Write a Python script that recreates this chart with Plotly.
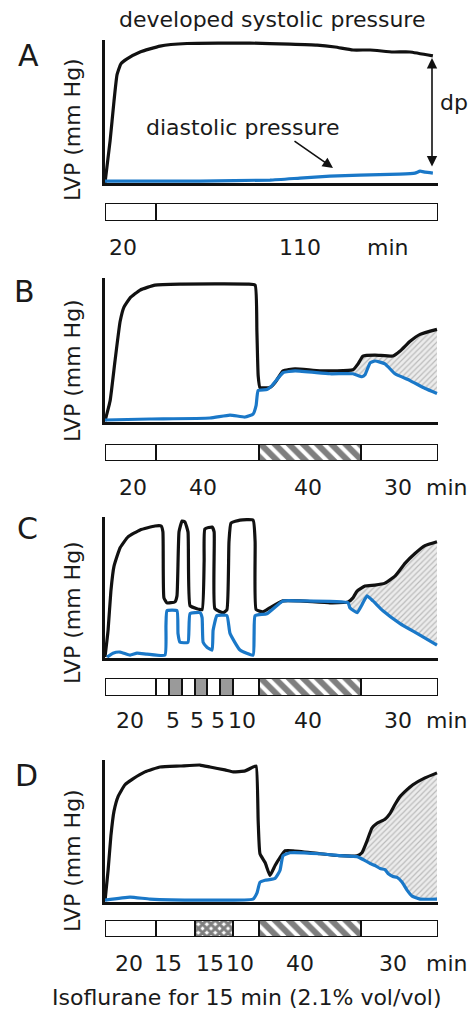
import plotly.graph_objects as go

W, H = 472, 1012
FONT = "DejaVu Sans"
BLACK = "#111111"
BLUE = "#1a78c8"

# ---------------- data: time (min), LVP (% of axis height) ----------------
a_sys_t = [0, 2.0, 3.5, 4.7, 6.2, 8.6, 13.7, 21.5, 32, 56.6, 72.2, 82.8, 89.8, 96.8, 103.5, 112.4, 119, 128]
a_sys = [0, 30.1, 58, 76.9, 84.6, 88.1, 93, 97.2, 99, 99.3, 98.6, 97.9, 96.5, 94.4, 94.4, 93, 93, 90.2]
a_dia_t = [0, 37, 64.4, 76.1, 87.8, 99.5, 115, 121, 123, 125, 128]
a_dia = [1.4, 1.4, 2.1, 3.5, 4.9, 5.6, 6.3, 7.0, 8.4, 7.7, 7.0]

b_sys_t = [0, 2.0, 3.9, 5.9, 7.4, 9.8, 13.7, 19.5, 29.3, 55.8, 58.6, 59.3, 59.8, 60.5, 64.4, 66.4, 69.5,
           74.2, 83.9, 96.8, 98.8, 100.7, 105.4, 112.4, 115.2, 119.1, 123, 129.6]
b_sys = [0.7, 15, 43, 70.8, 81, 87.5, 93, 96.5, 97.2, 97.2, 96.5, 63.9, 32.6, 24.3, 24.3, 27.8, 36.1,
         37.5, 36.1, 36.8, 41, 46.5, 47.2, 46.5, 50, 56.9, 61.8, 65.3]
b_dia_t = [0, 17.6, 41, 48.8, 54.7, 57.8, 59, 59.8, 63.2, 65.2, 69.5, 74.2, 87.8, 96.8, 100.3, 101.5,
           103.5, 105.4, 109.3, 113.2, 119.1, 125, 129.6]
b_dia = [1.4, 2.1, 2.8, 4.9, 3.5, 5.6, 11.8, 22.2, 22.9, 25.7, 34.7, 36.1, 34, 34, 31.9, 33.3,
         41.7, 43, 41, 34, 29.2, 23.6, 20.1]
b_fill_from = 96.8

c_sys_t = [0, 1.2, 2.3, 3.5, 5.9, 9.0, 13.7, 19.5, 21.9, 22.6, 23.0, 24.2, 27.3, 28.1, 28.9, 30.1, 31.2,
           32.4, 33.2, 35.9, 37.9, 38.7, 39.0, 41.8, 42.6, 42.9, 46.1, 47.6, 48.4, 49.2, 52.7, 57.8,
           58.6, 59.0, 61.7, 64.4, 69.5, 76.1, 87.8, 94.9, 96.8, 98.4, 101.5, 105.4, 109.3, 113.2,
           117.1, 121, 124.9, 129.6]
c_sys = [0.7, 19.9, 48.2, 66, 79.4, 87.2, 92.2, 95, 95, 90.8, 43.3, 39.7, 40.4, 44.7, 90.8, 98.6, 97.9,
         90.8, 37.6, 35.5, 34.8, 69.5, 92.9, 94.3, 90.8, 35.5, 32.6, 34.8, 83.7, 97.2, 99.3, 99.3,
         83.7, 34.8, 33.3, 36.2, 41.1, 41.1, 39.7, 40.4, 43.3, 48.2, 51.8, 52.5, 53.9, 58.9,
         68.1, 75.2, 80.9, 83.7]
c_dia_t = [0.8, 3.1, 5.9, 9.8, 12.5, 16.4, 23.4, 23.8, 24.2, 28.1, 28.5, 29.3, 32.4, 33.2, 37.1, 37.9,
           38.3, 39.8, 41.8, 42.2, 43.7, 47.6, 48.8, 52.7, 57.8, 58.2, 58.6, 63.2, 69.5, 76.1, 94.9,
           95.6, 98.4, 100.7, 102.3, 104.6, 108.5, 115.2, 121.8, 129.6]
c_dia = [0.7, 3.5, 4.3, 2.1, 3.5, 2.8, 2.1, 23.4, 34, 34, 17.7, 11.3, 11.3, 31.9, 32.6, 29.1,
         11.3, 7.8, 5.7, 19.9, 30.5, 30.5, 17.7, 5.7, 2.1, 16.3, 30.5, 31.9, 41.1, 41.1, 39.7,
         36.2, 32.6, 39.7, 44.7, 41.1, 34, 24.8, 17.7, 9.2]
c_fill_from = 94.9

d_sys_t = [0, 1.2, 2.3, 3.5, 5.1, 7.8, 10.9, 15.6, 21.5, 29.3, 37.1, 41, 46.8, 50, 54.7, 57.8, 59,
           59.8, 60.5, 62.5, 64.4, 66.4, 68.3, 70.3, 73.4, 83.9, 91.7, 98.4, 100.3, 102.3, 104.2,
           106.2, 109.3, 111.3, 113.2, 115.2, 117.9, 120.2, 124.9, 129.6]
d_sys = [0.7, 22.5, 47.2, 64.8, 75.4, 83.8, 88, 93, 96.5, 97.2, 97.9, 96.5, 94.4, 93, 93.7, 96.5, 97.2,
         57.7, 34.5, 28.2, 19, 26.1, 31.7, 36.6, 36.6, 34.5, 33.1, 33.1, 35.2, 43.7, 52.8,
         56.3, 59.2, 63.4, 69.7, 75.4, 80.3, 83.8, 88.7, 92.3]
d_dia_t = [0, 9.8, 17.6, 37.1, 57.8, 59.3, 60.5, 62.5, 66.4, 68.3, 69.5, 72.2, 83.9, 91.7, 98.4, 101.5,
           103.5, 105.4, 107.4, 109.3, 110.5, 112.4, 114, 116, 117.9, 119.9, 123, 129.6]
d_dia = [1.4, 3.5, 2.1, 1.4, 2.1, 6.3, 14.1, 15.5, 16.9, 22.5, 33.1, 35.2, 34.5, 33.1, 32.4, 29.6,
         27.5, 26.1, 23.9, 23.2, 20.4, 18.3, 17.6, 14.1, 8.5, 4.2, 2.1, 2.1]
d_fill_from = 98.4

# protocol segments (min) and their kind
a_seg_min = [20, 110]
a_seg_kind = ["plain", "plain"]
b_seg_min = [20, 40, 40, 30]
b_seg_kind = ["plain", "plain", "hatch", "plain"]
c_seg_min = [20, 5, 5, 5, 5, 5, 5, 10, 40, 30]
c_seg_kind = ["plain", "plain", "gray", "plain", "gray", "plain", "gray", "plain", "hatch", "plain"]
d_seg_min = [20, 15, 15, 10, 40, 30]
d_seg_kind = ["plain", "plain", "check", "plain", "hatch", "plain"]

# duration labels under the protocol bars (label, time position in min)
a_lab = ["20", "110", "min"]
a_lab_t = [7.0, 76.1, 110.5]
b_lab = ["20", "40", "40", "30", "min"]
b_lab_t = [10.9, 38.3, 79.2, 114.3, 133.5]
c_lab = ["20", "5", "5", "5", "10", "40", "30", "min"]
c_lab_t = [9.8, 26.5, 35.9, 44.3, 53.5, 79.2, 114.3, 133.5]
d_lab = ["20", "15", "15", "10", "40", "30", "min"]
d_lab_t = [9.4, 24.6, 41.0, 52.7, 76.1, 112.4, 133.5]

panel_letters = ["A", "B", "C", "D"]
T_MAX = 130

# ---------------- layout geometry (pixels) ----------------
def pxx(x):
    return x / W


def pxy(y):
    return 1 - y / H


X0, X1 = 105, 438
main_box = [(183, 40), (422, 278), (658, 517), (902, 760)]
bar_box = [(221, 203), (461, 444), (696, 678), (937, 920)]
lab_y = [247, 487, 720, 963]
letter_xy = [(28, 55), (24, 291), (27, 528), (26, 775)]
lvp_y = [130, 371, 613, 861]


def t_to_paper(t):
    return pxx(X0) + t / T_MAX * (pxx(X1) - pxx(X0))


panels = [
    dict(sys_t=a_sys_t, sys=a_sys, dia_t=a_dia_t, dia=a_dia, fill=None,
         seg=a_seg_min, kind=a_seg_kind, lab=a_lab, lab_t=a_lab_t),
    dict(sys_t=b_sys_t, sys=b_sys, dia_t=b_dia_t, dia=b_dia, fill=b_fill_from,
         seg=b_seg_min, kind=b_seg_kind, lab=b_lab, lab_t=b_lab_t),
    dict(sys_t=c_sys_t, sys=c_sys, dia_t=c_dia_t, dia=c_dia, fill=c_fill_from,
         seg=c_seg_min, kind=c_seg_kind, lab=c_lab, lab_t=c_lab_t),
    dict(sys_t=d_sys_t, sys=d_sys, dia_t=d_dia_t, dia=d_dia, fill=d_fill_from,
         seg=d_seg_min, kind=d_seg_kind, lab=d_lab, lab_t=d_lab_t),
]

fig = go.Figure()
layout = dict(
    width=W, height=H, autosize=False,
    margin=dict(l=0, r=0, t=0, b=0),
    paper_bgcolor="white", plot_bgcolor="white",
    showlegend=False, barmode="stack", bargap=0,
    font=dict(family=FONT, size=22, color="#1a1a1a"),
)
annotations = []


def seg_marker(kind):
    line = dict(color=BLACK, width=2.5)
    if kind == "hatch":
        return dict(color="white", line=line,
                    pattern=dict(shape="\\", fgcolor="#000000", bgcolor="white", size=10, solidity=0.6))
    if kind == "check":
        return dict(color="white", line=line,
                    pattern=dict(shape="x", fgcolor="#000000", bgcolor="white", size=6, solidity=0.75))
    if kind == "gray":
        return dict(color="#9a9a9a", line=line)
    return dict(color="white", line=line)


for i, p in enumerate(panels):
    n = i + 1
    m = n + 4
    xa, ya = f"x{'' if n == 1 else n}", f"y{'' if n == 1 else n}"
    xb, yb = f"x{m}", f"y{m}"

    # hatched area between systolic and diastolic traces
    if p["fill"] is not None:
        f0 = p["fill"]
        dt = [t for t in p["dia_t"] if t >= f0]
        dv = [v for t, v in zip(p["dia_t"], p["dia"]) if t >= f0]
        st = [t for t in p["sys_t"] if t >= f0]
        sv = [v for t, v in zip(p["sys_t"], p["sys"]) if t >= f0]
        fig.add_trace(go.Scatter(x=dt, y=dv, mode="lines", line=dict(width=0, color=BLUE),
                                 xaxis=xa, yaxis=ya, hoverinfo="skip"))
        fig.add_trace(go.Scatter(x=st, y=sv, mode="lines", line=dict(width=0, color=BLACK),
                                 fill="tonexty", fillcolor="#dcdcdc",
                                 fillpattern=dict(shape="/", fgcolor="#8a8a8a", bgcolor="#ececec",
                                                  size=4, solidity=0.3),
                                 xaxis=xa, yaxis=ya, hoverinfo="skip"))

    fig.add_trace(go.Scatter(x=p["sys_t"], y=p["sys"], mode="lines",
                             line=dict(color=BLACK, width=3.2, shape="spline", smoothing=0.4),
                             xaxis=xa, yaxis=ya, hoverinfo="skip"))
    fig.add_trace(go.Scatter(x=p["dia_t"], y=p["dia"], mode="lines",
                             line=dict(color=BLUE, width=3.2, shape="spline", smoothing=0.4),
                             xaxis=xa, yaxis=ya, hoverinfo="skip"))

    # protocol bar
    for dur, kind in zip(p["seg"], p["kind"]):
        fig.add_trace(go.Bar(x=[dur], y=[0], orientation="h", width=1, xaxis=xb, yaxis=yb,
                             marker=seg_marker(kind), cliponaxis=False, hoverinfo="skip"))

    ybot, ytop = main_box[i]
    layout[f"xaxis{'' if n == 1 else n}"] = dict(
        domain=[pxx(X0), pxx(X1)], range=[0, T_MAX], anchor=ya, showline=True, linecolor=BLACK,
        linewidth=3, showgrid=False, zeroline=False, showticklabels=False, ticks="")
    layout[f"yaxis{'' if n == 1 else n}"] = dict(
        domain=[pxy(ybot), pxy(ytop)], range=[0, 101.5], anchor=xa, showline=True, linecolor=BLACK,
        linewidth=2.8, showgrid=False, zeroline=False, showticklabels=False, ticks="")
    bb, bt = bar_box[i]
    layout[f"xaxis{m}"] = dict(domain=[pxx(X0), pxx(X1)], range=[0, T_MAX], anchor=yb, visible=False)
    layout[f"yaxis{m}"] = dict(domain=[pxy(bb), pxy(bt)], range=[-0.5, 0.5], anchor=xb, visible=False)

    for txt, t in zip(p["lab"], p["lab_t"]):
        annotations.append(dict(text=txt, x=t_to_paper(t), xref="paper", y=pxy(lab_y[i]),
                                yref="paper", showarrow=False, xanchor="center", yanchor="middle"))
    lx, ly = letter_xy[i]
    annotations.append(dict(text=panel_letters[i], x=pxx(lx), y=pxy(ly), xref="paper", yref="paper",
                            showarrow=False, xanchor="center", yanchor="middle", font=dict(size=30)))
    annotations.append(dict(text="LVP (mm Hg)", x=pxx(72), y=pxy(lvp_y[i]), xref="paper",
                            yref="paper", showarrow=False, textangle=-90, xanchor="center",
                            yanchor="middle"))

annotations += [
    dict(text="developed systolic pressure", x=pxx(272), y=pxy(20), xref="paper", yref="paper",
         showarrow=False, xanchor="center", yanchor="middle"),
    dict(text="diastolic pressure", x=pxx(243), y=pxy(127), xref="paper", yref="paper",
         showarrow=False, xanchor="center", yanchor="middle"),
    dict(text="dp", x=pxx(438), y=pxy(103), xref="paper", yref="paper",
         showarrow=False, xanchor="left", yanchor="middle"),
    dict(text="Isoflurane for 15 min (2.1% vol/vol)", x=pxx(247), y=pxy(997), xref="paper",
         yref="paper", showarrow=False, xanchor="center", yanchor="middle"),
    # arrow to diastolic trace
    dict(text="", x=pxx(333), y=pxy(168), xref="paper", yref="paper", ax=-40, ay=-28,
         showarrow=True, arrowhead=2, arrowsize=1.3, arrowwidth=1.6, arrowcolor=BLACK),
    # double arrow dp
    dict(text="", x=pxx(432), y=pxy(58), xref="paper", yref="paper", ax=0, ay=110,
         showarrow=True, arrowhead=2, startarrowhead=2, arrowside="end+start", arrowsize=1.3,
         startarrowsize=1.3, arrowwidth=1.6, arrowcolor=BLACK),
]
layout["annotations"] = annotations
fig.update_layout(**layout)
fig.write_html(
    "out.html",
    config={"displayModeBar": False},
    post_script="document.body.style.margin='0';document.body.style.overflow='hidden';",
)
